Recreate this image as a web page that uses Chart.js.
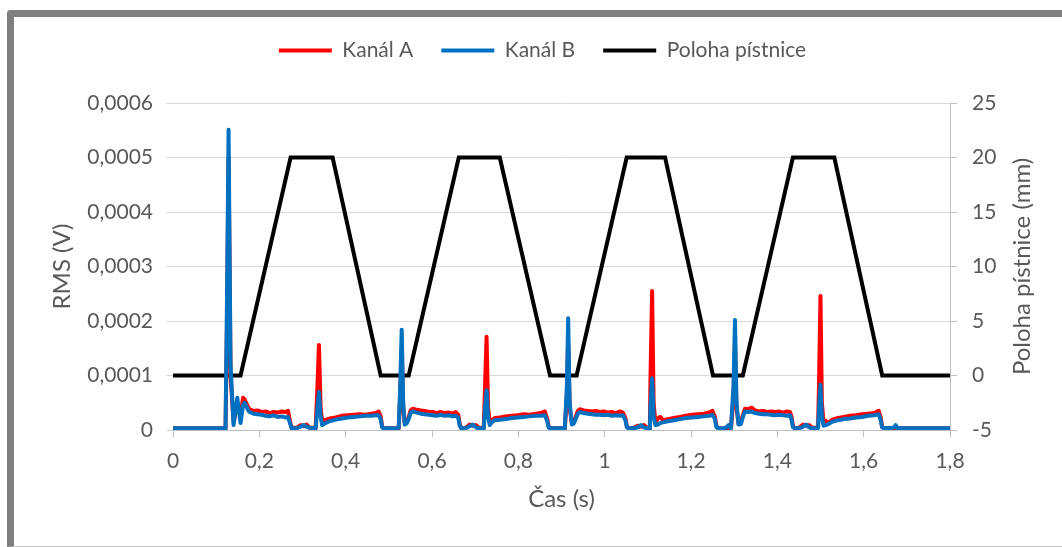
<!DOCTYPE html>
<html lang="cs">

<head>
    <meta charset="UTF-8">
    <title>RMS a poloha pístnice</title>
    <script src="https://cdn.jsdelivr.net/npm/chart.js"></script>
    <style>
        html, body {
            margin: 0;
            padding: 0;
            background: #fff;
        }

        .page {
            position: relative;
            width: 1062px;
            height: 547px;
            overflow: hidden;
        }

        .frame {
            position: absolute;
            left: 7px;
            top: 10px;
            right: -20px;
            bottom: 0;
            border-left: 7px solid #7f7f7f;
            border-top: 7px solid #7f7f7f;
            border-bottom: 1px solid #c4c4c4;
            border-top-left-radius: 4px;
        }

        canvas {
            position: absolute;
            left: 0;
            top: 0;
        }
    </style>
</head>

<body>
    <div class="page">
        <div class="frame"></div>
        <canvas id="graf" width="1062" height="547"></canvas>
    </div>

    <script>
        // time axis of the RMS record (s)
        const casRms = [
            0.0000, 0.0400, 0.0800, 0.1217, 0.1252, 0.1287, 0.1333, 0.1403, 0.1489, 0.1565,
            0.1623, 0.1658, 0.1751, 0.1774, 0.1866, 0.1959, 0.2052, 0.2145, 0.2237, 0.2330,
            0.2423, 0.2516, 0.2608, 0.2666, 0.2713, 0.2748, 0.2863, 0.2956, 0.3026, 0.3095,
            0.3165, 0.3304, 0.3346, 0.3381, 0.3420, 0.3455, 0.3513, 0.3629, 0.3768, 0.3907,
            0.4046, 0.4185, 0.4324, 0.4463, 0.4602, 0.4695, 0.4764, 0.4811, 0.4846, 0.4881,
            0.5136, 0.5228, 0.5263, 0.5298, 0.5333, 0.5368, 0.5414, 0.5460, 0.5506, 0.5553,
            0.5646, 0.5739, 0.5832, 0.5924, 0.6017, 0.6110, 0.6202, 0.6295, 0.6388, 0.6481,
            0.6550, 0.6608, 0.6643, 0.6678, 0.6782, 0.6875, 0.6944, 0.7014, 0.7083, 0.7199,
            0.7229, 0.7264, 0.7299, 0.7338, 0.7385, 0.7454, 0.7570, 0.7709, 0.7848, 0.7987,
            0.8126, 0.8265, 0.8405, 0.8520, 0.8613, 0.8671, 0.8706, 0.8753, 0.9077, 0.9124,
            0.9154, 0.9189, 0.9240, 0.9286, 0.9333, 0.9379, 0.9426, 0.9518, 0.9611, 0.9704,
            0.9796, 0.9889, 0.9982, 1.0074, 1.0167, 1.0260, 1.0353, 1.0422, 1.0480, 1.0515,
            1.0561, 1.0677, 1.0770, 1.0839, 1.0909, 1.0978, 1.1048, 1.1060, 1.1099, 1.1134,
            1.1176, 1.1234, 1.1292, 1.1350, 1.1465, 1.1605, 1.1744, 1.1883, 1.2022, 1.2161,
            1.2300, 1.2416, 1.2497, 1.2555, 1.2590, 1.2636, 1.2717, 1.2810, 1.2868, 1.2926,
            1.2984, 1.3019, 1.3054, 1.3100, 1.3158, 1.3205, 1.3251, 1.3321, 1.3402, 1.3482,
            1.3575, 1.3668, 1.3761, 1.3853, 1.3946, 1.4039, 1.4132, 1.4224, 1.4294, 1.4329,
            1.4364, 1.4410, 1.4503, 1.4596, 1.4666, 1.4735, 1.4805, 1.4897, 1.4944, 1.4967,
            1.4999, 1.5032, 1.5071, 1.5123, 1.5181, 1.5268, 1.5407, 1.5546, 1.5685, 1.5824,
            1.5963, 1.6102, 1.6241, 1.6346, 1.6392, 1.6427, 1.6473, 1.6693, 1.6740, 1.6786,
            1.7400, 1.8000
        ];

        // RMS, channel A (µV)
        const kanalA = [
            3, 3, 3, 3, 200, 500, 100, 15, 45, 25,
            59, 56, 40, 38, 35, 36, 33, 34, 31, 33,
            32, 34, 33, 35, 15, 4, 4, 9, 7, 10,
            4, 4, 80, 156, 40, 16, 18, 21, 23, 26,
            27, 28, 29, 28, 30, 31, 34, 25, 6, 3,
            3, 3, 60, 150, 40, 12, 15, 24, 36, 39,
            37, 36, 35, 33, 33, 31, 33, 31, 32, 30,
            33, 28, 10, 3, 4, 10, 8, 9, 4, 4,
            80, 171, 40, 15, 18, 22, 23, 25, 26, 27,
            29, 28, 30, 31, 34, 20, 5, 3, 3, 60,
            160, 40, 13, 15, 25, 35, 38, 36, 35, 34,
            35, 33, 34, 32, 33, 31, 34, 32, 22, 6,
            3, 4, 8, 6, 9, 4, 3, 90, 255, 50,
            12, 22, 24, 18, 20, 22, 24, 26, 28, 29,
            30, 32, 35, 24, 7, 3, 3, 4, 3, 3,
            60, 160, 40, 12, 16, 28, 39, 38, 41, 36,
            34, 35, 33, 34, 33, 34, 32, 34, 33, 24,
            6, 3, 4, 10, 8, 9, 4, 4, 6, 90,
            246, 50, 14, 17, 12, 19, 22, 24, 26, 27,
            29, 30, 31, 35, 24, 6, 3, 3, 4, 3,
            3, 3
        ];

        // RMS, channel B (µV)
        const kanalB = [
            3, 3, 3, 3, 250, 551, 120, 9, 59, 13,
            46, 50, 35, 33, 30, 29, 28, 26, 25, 27,
            24, 25, 23, 24, 12, 3, 3, 6, 9, 6,
            4, 3, 40, 70, 25, 9, 12, 16, 19, 21,
            23, 24, 25, 26, 26, 27, 27, 20, 5, 3,
            3, 4, 80, 184, 50, 10, 12, 20, 32, 34,
            32, 30, 29, 28, 27, 26, 28, 26, 27, 25,
            26, 23, 8, 3, 3, 7, 10, 5, 3, 3,
            40, 73, 25, 9, 14, 18, 19, 20, 22, 23,
            24, 25, 26, 26, 27, 16, 4, 3, 3, 80,
            205, 50, 10, 12, 21, 30, 33, 31, 30, 29,
            28, 28, 27, 28, 26, 27, 26, 27, 18, 5,
            3, 3, 5, 9, 5, 3, 3, 40, 95, 25,
            9, 10, 13, 14, 16, 18, 20, 22, 23, 24,
            25, 26, 28, 20, 5, 3, 3, 4, 9, 3,
            80, 202, 50, 10, 11, 25, 34, 33, 34, 31,
            30, 29, 29, 28, 27, 28, 27, 26, 27, 19,
            5, 3, 3, 6, 10, 5, 3, 3, 4, 40,
            83, 25, 8, 9, 11, 15, 18, 20, 21, 23,
            24, 26, 27, 29, 19, 5, 3, 4, 9, 3,
            3, 3
        ];

        // piston rod position: break points (s) and values (mm)
        const polohaCas = [0, 0.1565, 0.2724, 0.3698, 0.4811, 0.546, 0.662, 0.757, 0.8735,
            0.935, 1.051, 1.140, 1.251, 1.320, 1.436, 1.532, 1.643, 1.8];
        const polohaMm = [0, 0, 20, 20, 0, 0, 20, 20, 0, 0, 20, 20, 0, 0, 20, 20, 0, 0];

        const nazvy = ['Kanál A', 'Kanál B', 'Poloha pístnice'];
        const barvy = ['#ff0000', '#0070c0', '#000000'];
        const titulkyOs = ['Čas (s)', 'RMS (V)', 'Poloha pístnice (mm)'];

        const body = (xs, ys, k) => xs.map((x, i) => ({ x: x, y: ys[i] * k }));

        const sedaText = '#595959';
        const pismo = 'Lato, "Open Sans", sans-serif';
        Chart.defaults.font.family = pismo;
        Chart.defaults.color = sedaText;

        // fixed legend height so the plot area starts where it should,
        // and the legend row nudged a bit to the right
        const vyskaLegendy = {
            id: 'vyskaLegendy',
            beforeUpdate(chart) {
                const lg = chart.legend;
                if (lg && !lg._upraveno) {
                    const fit = lg.fit;
                    lg.fit = function () { fit.call(this); this.height = 91; };
                    lg._upraveno = true;
                }
            },
            afterLayout(chart) {
                if (chart.legend) chart.legend.left += 23;
            }
        };

        // right axis title, read from bottom to top like the left one
        const pravyTitulek = {
            id: 'pravyTitulek',
            afterDraw(chart) {
                const s = chart.scales.y2;
                const ctx = chart.ctx;
                ctx.save();
                ctx.translate(s.right - 40, (chart.chartArea.top + chart.chartArea.bottom) / 2);
                ctx.rotate(-Math.PI / 2);
                ctx.font = '24px ' + pismo;
                ctx.fillStyle = sedaText;
                ctx.textAlign = 'center';
                ctx.textBaseline = 'middle';
                ctx.fillText(titulkyOs[2], 0, 0);
                ctx.restore();
            }
        };

        const cara = {
            pointRadius: 0,
            pointHoverRadius: 0,
            borderWidth: 4,
            tension: 0,
            borderCapStyle: 'round',
            borderJoinStyle: 'round'
        };

        new Chart(document.getElementById('graf'), {
            type: 'line',
            data: {
                datasets: [
                    Object.assign({
                        label: nazvy[0], data: body(casRms, kanalA, 1e-6),
                        borderColor: barvy[0], backgroundColor: barvy[0], yAxisID: 'y', order: 1
                    }, cara),
                    Object.assign({
                        label: nazvy[1], data: body(casRms, kanalB, 1e-6),
                        borderColor: barvy[1], backgroundColor: barvy[1], yAxisID: 'y', order: 0
                    }, cara),
                    Object.assign({}, cara, {
                        label: nazvy[2], data: body(polohaCas, polohaMm, 1),
                        borderColor: barvy[2], backgroundColor: barvy[2], yAxisID: 'y2', order: 2,
                        borderJoinStyle: 'miter', borderCapStyle: 'butt'
                    })
                ]
            },
            options: {
                responsive: false,
                animation: false,
                layout: { padding: { top: 12, left: 0, right: 0, bottom: 0 } },
                plugins: {
                    tooltip: { enabled: false },
                    legend: {
                        position: 'top',
                        labels: {
                            boxWidth: 53,
                            boxHeight: 4,
                            padding: 28,
                            color: sedaText,
                            font: { size: 21 },
                            generateLabels(chart) {
                                const polozky = Chart.defaults.plugins.legend.labels.generateLabels(chart);
                                polozky.forEach(p => { p.lineWidth = 0; p.fillStyle = p.strokeStyle; });
                                return polozky.sort((a, b) => a.datasetIndex - b.datasetIndex);
                            }
                        }
                    }
                },
                scales: {
                    x: {
                        type: 'linear',
                        min: 0,
                        max: 1.8,
                        ticks: {
                            stepSize: 0.2,
                            padding: 12,
                            font: { size: 21 },
                            color: sedaText,
                            callback: v => String(Math.round(v * 10) / 10).replace('.', ',')
                        },
                        grid: { drawOnChartArea: false, drawTicks: true, tickLength: 7, color: '#bfbfbf' },
                        border: { display: true, color: '#bfbfbf' },
                        title: {
                            display: true, text: titulkyOs[0], color: sedaText,
                            font: { size: 24 }, padding: { top: 0, bottom: 33 }
                        },
                        afterFit: s => { s.height = 117; }
                    },
                    y: {
                        position: 'left',
                        min: 0,
                        max: 0.0006,
                        ticks: {
                            stepSize: 0.0001,
                            padding: 13,
                            font: { size: 21 },
                            color: sedaText,
                            callback: v => v === 0 ? '0' : v.toFixed(4).replace('.', ',')
                        },
                        grid: { color: '#d9d9d9', drawTicks: true, tickLength: 7 },
                        border: { display: false },
                        title: {
                            display: true, text: titulkyOs[1], color: sedaText,
                            font: { size: 24 }, padding: { top: 48, bottom: 0 }
                        },
                        afterFit: s => { s.width = 173; }
                    },
                    y2: {
                        position: 'right',
                        min: -5,
                        max: 25,
                        ticks: {
                            stepSize: 5,
                            padding: 15,
                            font: { size: 21 },
                            color: sedaText
                        },
                        grid: { drawOnChartArea: false, drawTicks: true, tickLength: 7, color: '#bfbfbf' },
                        border: { display: true, color: '#bfbfbf' },
                        title: { display: false },
                        afterFit: s => { s.width = 112; }
                    }
                }
            },
            plugins: [vyskaLegendy, pravyTitulek]
        });
    </script>
</body>

</html>
